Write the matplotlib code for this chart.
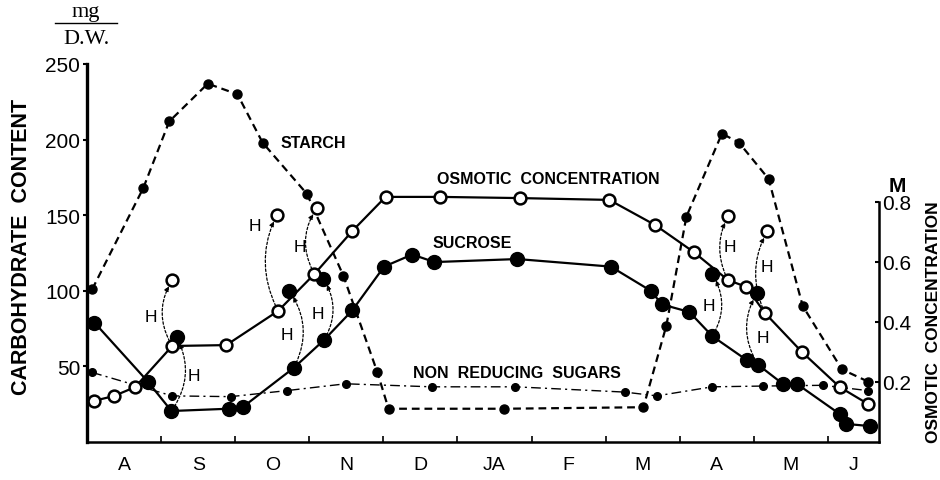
"""
Seasonal carbohydrate content and osmotic concentration, redrawn from a scanned figure.
Left axis: mg / D.W.; right axis: osmotic concentration (M).
x is measured in months from 1 August.
"""

import matplotlib
matplotlib.use("Agg")
import matplotlib.pyplot as plt
from matplotlib.lines import Line2D

plt.rcParams["font.family"] = ["Liberation Sans", "DejaVu Sans"]

MONTHS = ["A", "S", "O", "N", "D", "JA", "F", "M", "A", "M", "J"]
X_MAX = 10.69

# starch, mg/D.W.
starch_x = [0.07, 0.76, 1.11, 1.63, 2.03, 2.37, 2.97, 3.46, 3.92, 4.07, 5.63, 7.51,
            7.82, 8.09, 8.57, 8.80, 9.20, 9.66, 10.19, 10.54]
starch_y = [101, 168, 212, 237, 230, 198, 164, 110, 46, 22, 22, 23,
            77, 149, 204, 198, 174, 90, 48, 40]

# sucrose, mg/D.W.
sucrose_x = [0.10, 0.82, 1.14, 1.91, 2.10, 2.79, 3.20, 3.58, 4.01, 4.39, 4.69, 5.81,
             7.07, 7.61, 7.76, 8.13, 8.44, 8.91, 9.06, 9.39, 9.58, 10.16, 10.24, 10.57]
sucrose_y = [79, 40, 20.5, 22, 23, 49, 67.5, 87, 116, 124, 119, 121,
             116, 100, 91, 86, 70, 54, 51, 38.5, 38.5, 18.5, 12, 10.5]

# non reducing sugars, mg/D.W.
nrs_x = [0.07, 1.15, 1.94, 2.70, 3.49, 4.65, 5.78, 7.26, 7.69, 8.44, 9.12, 9.93, 10.54]
nrs_y = [46, 30.5, 30, 34, 38.5, 36.5, 36.5, 33, 30.5, 36.5, 37, 37.5, 34]

# osmotic concentration, M
osm_x = [0.09, 0.36, 0.65, 1.15, 1.88, 2.58, 3.07, 3.58, 4.03, 4.77, 5.85, 7.05,
         7.67, 8.19, 8.65, 8.90, 9.15, 9.65, 10.16, 10.54]
osm_y = [0.137, 0.153, 0.183, 0.32, 0.323, 0.437, 0.56, 0.703, 0.817, 0.817, 0.813, 0.807,
         0.723, 0.633, 0.54, 0.517, 0.43, 0.30, 0.183, 0.127]

# "H" treatments: from a point on the curve to the value after treatment
osm_h_x0 = [1.15, 2.58, 3.07, 8.65, 9.15]
osm_h_y0 = [0.32, 0.437, 0.56, 0.54, 0.43]
osm_h_x1 = [1.15, 2.56, 3.10, 8.65, 9.18]
osm_h_y1 = [0.54, 0.757, 0.78, 0.753, 0.703]
osm_h_lx = [0.86, 2.26, 2.88, 8.68, 9.18]
osm_h_ly = [83, 143, 129, 129, 116]
osm_h_rad = [-0.3, -0.25, -0.3, -0.25, -0.25]

suc_h_x0 = [1.14, 2.79, 3.20, 8.44, 9.06]
suc_h_y0 = [20.5, 49, 67.5, 70, 51]
suc_h_x1 = [1.21, 2.73, 3.19, 8.44, 9.04]
suc_h_y1 = [69.5, 100, 108, 111, 98.5]
suc_h_lx = [1.44, 2.70, 3.12, 8.40, 9.12]
suc_h_ly = [44, 71, 85, 90, 69]
suc_h_rad = [0.3, 0.3, 0.3, 0.3, -0.3]

fig = plt.figure(figsize=(9.4, 4.81), dpi=100)
ax = fig.add_axes([87 / 940, 38 / 481, (879 - 87) / 940, 378 / 481])
ax2 = ax.twinx()

ax.set_xlim(0, X_MAX)
ax.set_ylim(0, 250)
ax2.set_ylim(0, 1.26)

# series on the mg axis
ax.plot(starch_x, starch_y, color="k", lw=1.6, ls=(0, (3.5, 2.2)),
        marker="o", ms=6.5, mfc="k", mec="k", zorder=3)
ax.plot(nrs_x, nrs_y, color="k", lw=1.0, ls=(0, (7, 3, 1.5, 3)),
        marker="o", ms=5.5, mfc="k", mec="k", zorder=3)
ax.plot(sucrose_x, sucrose_y, color="k", lw=1.6, marker="o", ms=10,
        mfc="k", mec="k", zorder=4)

# osmotic concentration on the M axis
ax2.plot(osm_x, osm_y, color="k", lw=1.6, marker="o", ms=8.5,
         mfc="white", mec="k", mew=1.8, zorder=4)

# H arrows
arrow = dict(arrowstyle="-|>", color="k", lw=0.9, ls=(0, (2, 1.6)),
             mutation_scale=7, shrinkA=4, shrinkB=5)
for x0, y0, x1, y1, r in zip(suc_h_x0, suc_h_y0, suc_h_x1, suc_h_y1, suc_h_rad):
    ax.annotate("", xy=(x1, y1), xytext=(x0, y0),
                arrowprops=dict(arrow, connectionstyle=f"arc3,rad={r}"))
ax.plot(suc_h_x1, suc_h_y1, ls="none", marker="o", ms=10, mfc="k", mec="k", zorder=4)
for x0, y0, x1, y1, r in zip(osm_h_x0, osm_h_y0, osm_h_x1, osm_h_y1, osm_h_rad):
    ax2.annotate("", xy=(x1, y1), xytext=(x0, y0),
                 arrowprops=dict(arrow, connectionstyle=f"arc3,rad={r}"))
ax2.plot(osm_h_x1, osm_h_y1, ls="none", marker="o", ms=8.5, mfc="white",
         mec="k", mew=1.8, zorder=4)
for lx, ly in zip(suc_h_lx + osm_h_lx, suc_h_ly + osm_h_ly):
    ax.text(lx, ly, "H", fontsize=12.5, ha="center", va="center")

# curve labels
lab = dict(fontsize=11.5, fontweight="bold", ha="center", va="center")
ax.text(3.05, 198, "STARCH", **lab)
ax.text(6.22, 174, "OSMOTIC  CONCENTRATION", **lab)
ax.text(5.20, 132, "SUCROSE", **lab)
ax.text(5.80, 46, "NON  REDUCING  SUGARS", **lab)

# spines
for s in ("top", "right"):
    ax.spines[s].set_visible(False)
for s in ("top", "left", "bottom"):
    ax2.spines[s].set_visible(False)
ax.spines["left"].set_linewidth(2.4)
ax.spines["bottom"].set_linewidth(1.8)
ax2.spines["right"].set_linewidth(1.8)
ax2.spines["right"].set_bounds(0, 0.8)

# ticks
ax.set_xticks(range(1, 11))
ax.set_xticks([m + 0.5 for m in range(10)] + [(10 + X_MAX) / 2], minor=True)
ax.set_xticklabels([])
ax.set_xticklabels(MONTHS, minor=True)
ax.tick_params(axis="x", which="major", direction="in", length=4, width=1.2)
ax.tick_params(axis="x", which="minor", length=0, pad=10, labelsize=14)
ax.set_yticks([50, 100, 150, 200, 250])
ax.tick_params(axis="y", direction="out", length=3, width=1.5, pad=2, labelsize=15)
ax2.set_yticks([0.2, 0.4, 0.6, 0.8])
ax2.set_yticklabels(["0.2", "0.4", "0.6", "0.8"])
ax2.tick_params(axis="y", direction="in", length=3, width=1.5, pad=2, labelsize=15)

# axis titles and units
fig.text(22 / 940, 1 - 247 / 481, "CARBOHYDRATE  CONTENT", rotation=90,
         fontsize=15.5, fontweight="bold", ha="center", va="center")
fig.text(933 / 940, 1 - 322 / 481, "OSMOTIC  CONCENTRATION", rotation=90,
         fontsize=12.5, fontweight="bold", ha="center", va="center")
fig.text(897 / 940, 1 - 187 / 481, "M", fontsize=15, fontweight="bold",
         ha="center", va="center")
serif = dict(family=["Liberation Serif", "DejaVu Serif"], fontsize=16,
             ha="center", va="center")
fig.text(86 / 940, 1 - 12 / 481, "mg", **serif)
fig.text(86 / 940, 1 - 40 / 481, "D.W.", **serif)
fig.add_artist(Line2D([55 / 940, 117 / 940], [1 - 24 / 481, 1 - 24 / 481],
                      color="k", lw=1.0))

fig.savefig("out.png", dpi=100)
